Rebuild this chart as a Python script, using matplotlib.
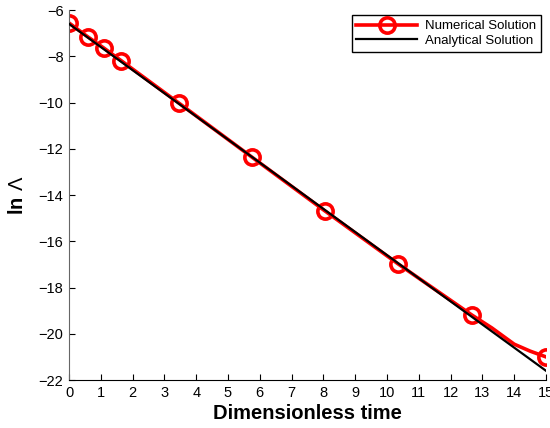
import numpy as np
import matplotlib.pyplot as plt

plt.rcParams['font.family'] = ['Liberation Sans', 'DejaVu Sans']
plt.rcParams['mathtext.fontset'] = 'custom'
plt.rcParams['mathtext.rm'] = 'Liberation Sans'
plt.rcParams['mathtext.bf'] = 'Liberation Sans:bold'

# numerical solution (markers)
t_num = [0, 0.6, 1.1, 1.65, 3.45, 5.75, 8.05, 10.35, 12.67, 13.3, 14.0, 14.5, 15.0]
ln_num = [-6.56, -7.17, -7.65, -8.2, -10.02, -12.36, -14.69, -16.98, -19.19, -19.75, -20.45, -20.75, -21.0]
marker_idx = [0, 1, 2, 3, 4, 5, 6, 7, 8, 12]

# analytical solution (straight line)
t_ana = [0, 15]
ln_ana = [-6.6, -21.6]

fig = plt.figure(figsize=(5.5, 4.28), dpi=100)
ax = fig.add_axes([0.1255, 0.1121, 0.8672, 0.8645])

ax.plot(t_num, ln_num, '-o', color='red', lw=2.6, ms=11, mew=2.6,
        mfc='none', markevery=marker_idx, label='Numerical Solution', zorder=2)
ax.plot(t_ana, ln_ana, '-', color='black', lw=1.6, label='Analytical Solution', zorder=3)

ax.set_xlim(0, 15)
ax.set_ylim(-22, -6)
ax.set_xticks(range(0, 16))
ax.set_yticks(range(-22, -5, 2))
ax.tick_params(direction='in', length=4, labelsize=10.5, width=0.8, pad=4)
ax.spines['top'].set_visible(False)
ax.spines['right'].set_visible(False)
ax.spines['left'].set_color('#666666')

ax.set_xlabel('Dimensionless time', fontsize=14.5, fontweight='bold', labelpad=3)
ax.set_ylabel(r'$\mathbf{ln}\ \Lambda$', fontsize=14.5, labelpad=8)

leg = ax.legend(loc='upper right', fontsize=9.5, fancybox=False, framealpha=1,
                edgecolor='black', borderaxespad=0.4, handlelength=4.6,
                borderpad=0.35, labelspacing=0.2, handletextpad=0.6)
leg.get_frame().set_linewidth(1.0)

fig.savefig('out.png', dpi=100)
